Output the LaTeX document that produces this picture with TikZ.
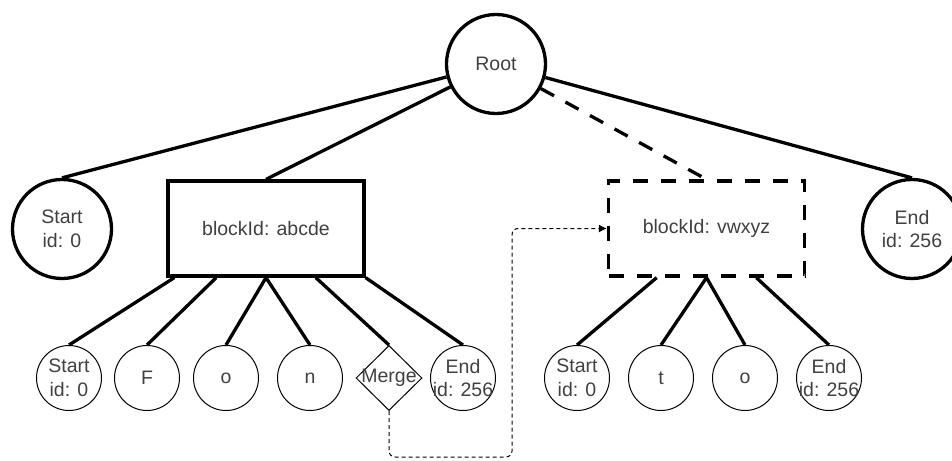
\documentclass[tikz,border=0pt]{standalone}
\usepackage{fontspec}
\setmainfont{Liberation Sans}
\usetikzlibrary{shapes.geometric,arrows.meta,calc}
\begin{document}
\begin{tikzpicture}[x=1pt,y=-1pt,
  txt/.style={font=\fontsize{19.5}{23.5}\selectfont, text=black!75, align=center},
  bigc/.style={circle, draw, line width=3.3pt, minimum size=99pt, inner sep=0pt, txt},
  blockbox/.style={rectangle, draw, line width=3.3pt, minimum width=196pt, minimum height=95pt, inner sep=0pt, txt},
  dblock/.style={blockbox, dash pattern=on 15pt off 13pt},
  smallc/.style={circle, draw, line width=1pt, minimum size=65pt, inner sep=0pt, label={[txt,inner sep=0pt]center:#1}},
  mdiam/.style={diamond, draw, line width=1pt, minimum width=66pt, minimum height=65pt, inner sep=0pt, label={[txt,inner sep=0pt]center:#1}},
  edge/.style={line width=3.3pt},
  dedge/.style={line width=3.3pt, dash pattern=on 15pt off 13pt},
  dotarrow/.style={line width=1pt, dash pattern=on 4pt off 3pt, rounded corners=6pt, -{Latex[length=8pt,width=8pt]}}
]
\useasboundingbox (0,0) rectangle (952,460);

% top level
\node[bigc] (root) at (496,64) {Root};
\node[bigc] (start1) at (62,229) {Start\\id: 0};
\node[blockbox] (blockA) at (266,228.5) {blockId: abcde};
\node[dblock] (blockB) at (706.5,228.5) {blockId: vwxyz};
\node[bigc] (end1) at (912,229) {End\\id: 256};

\draw[edge] (root) -- (start1.north);
\draw[edge] (root) -- (blockA.north);
\draw[dedge] (root) -- (blockB.north);
\draw[edge] (root) -- (end1.north);

% children of blockA
\node[smallc={Start\\id: 0}] (a1) at (69,378) {};
\node[smallc={F}] (a2) at (147,378) {};
\node[smallc={o}] (a3) at (226,378) {};
\node[smallc={n}] (a4) at (310,378) {};
\node[mdiam={Merge}] (merge) at (389,378) {};
\node[smallc={End\\id: 256}] (a6) at (463,378) {};

\draw[edge] ($(blockA.south west)!0.04!(blockA.south east)$) -- (a1.north);
\draw[edge] ($(blockA.south west)!0.25!(blockA.south east)$) -- (a2.north);
\draw[edge] ($(blockA.south west)!0.5!(blockA.south east)$) -- (a3.north);
\draw[edge] ($(blockA.south west)!0.5!(blockA.south east)$) -- (a4.north);
\draw[edge] ($(blockA.south west)!0.75!(blockA.south east)$) -- (merge.north);
\draw[edge] (blockA.south east) -- (a6.north);

% children of blockB
\node[smallc={Start\\id: 0}] (b1) at (577,378) {};
\node[smallc={t}] (b2) at (661,378) {};
\node[smallc={o}] (b3) at (745,378) {};
\node[smallc={End\\id: 256}] (b4) at (829,378) {};

\draw[edge] ($(blockB.south west)!0.25!(blockB.south east)$) -- (b1.north);
\draw[edge] ($(blockB.south west)!0.5!(blockB.south east)$) -- (b2.north);
\draw[edge] ($(blockB.south west)!0.5!(blockB.south east)$) -- (b3.north);
\draw[edge] ($(blockB.south west)!0.75!(blockB.south east)$) -- (b4.north);

% merge link
\coordinate (turn) at (512,457);
\draw[dotarrow] (merge.south) |- (turn) |- (blockB.west);
\end{tikzpicture}
\end{document}
